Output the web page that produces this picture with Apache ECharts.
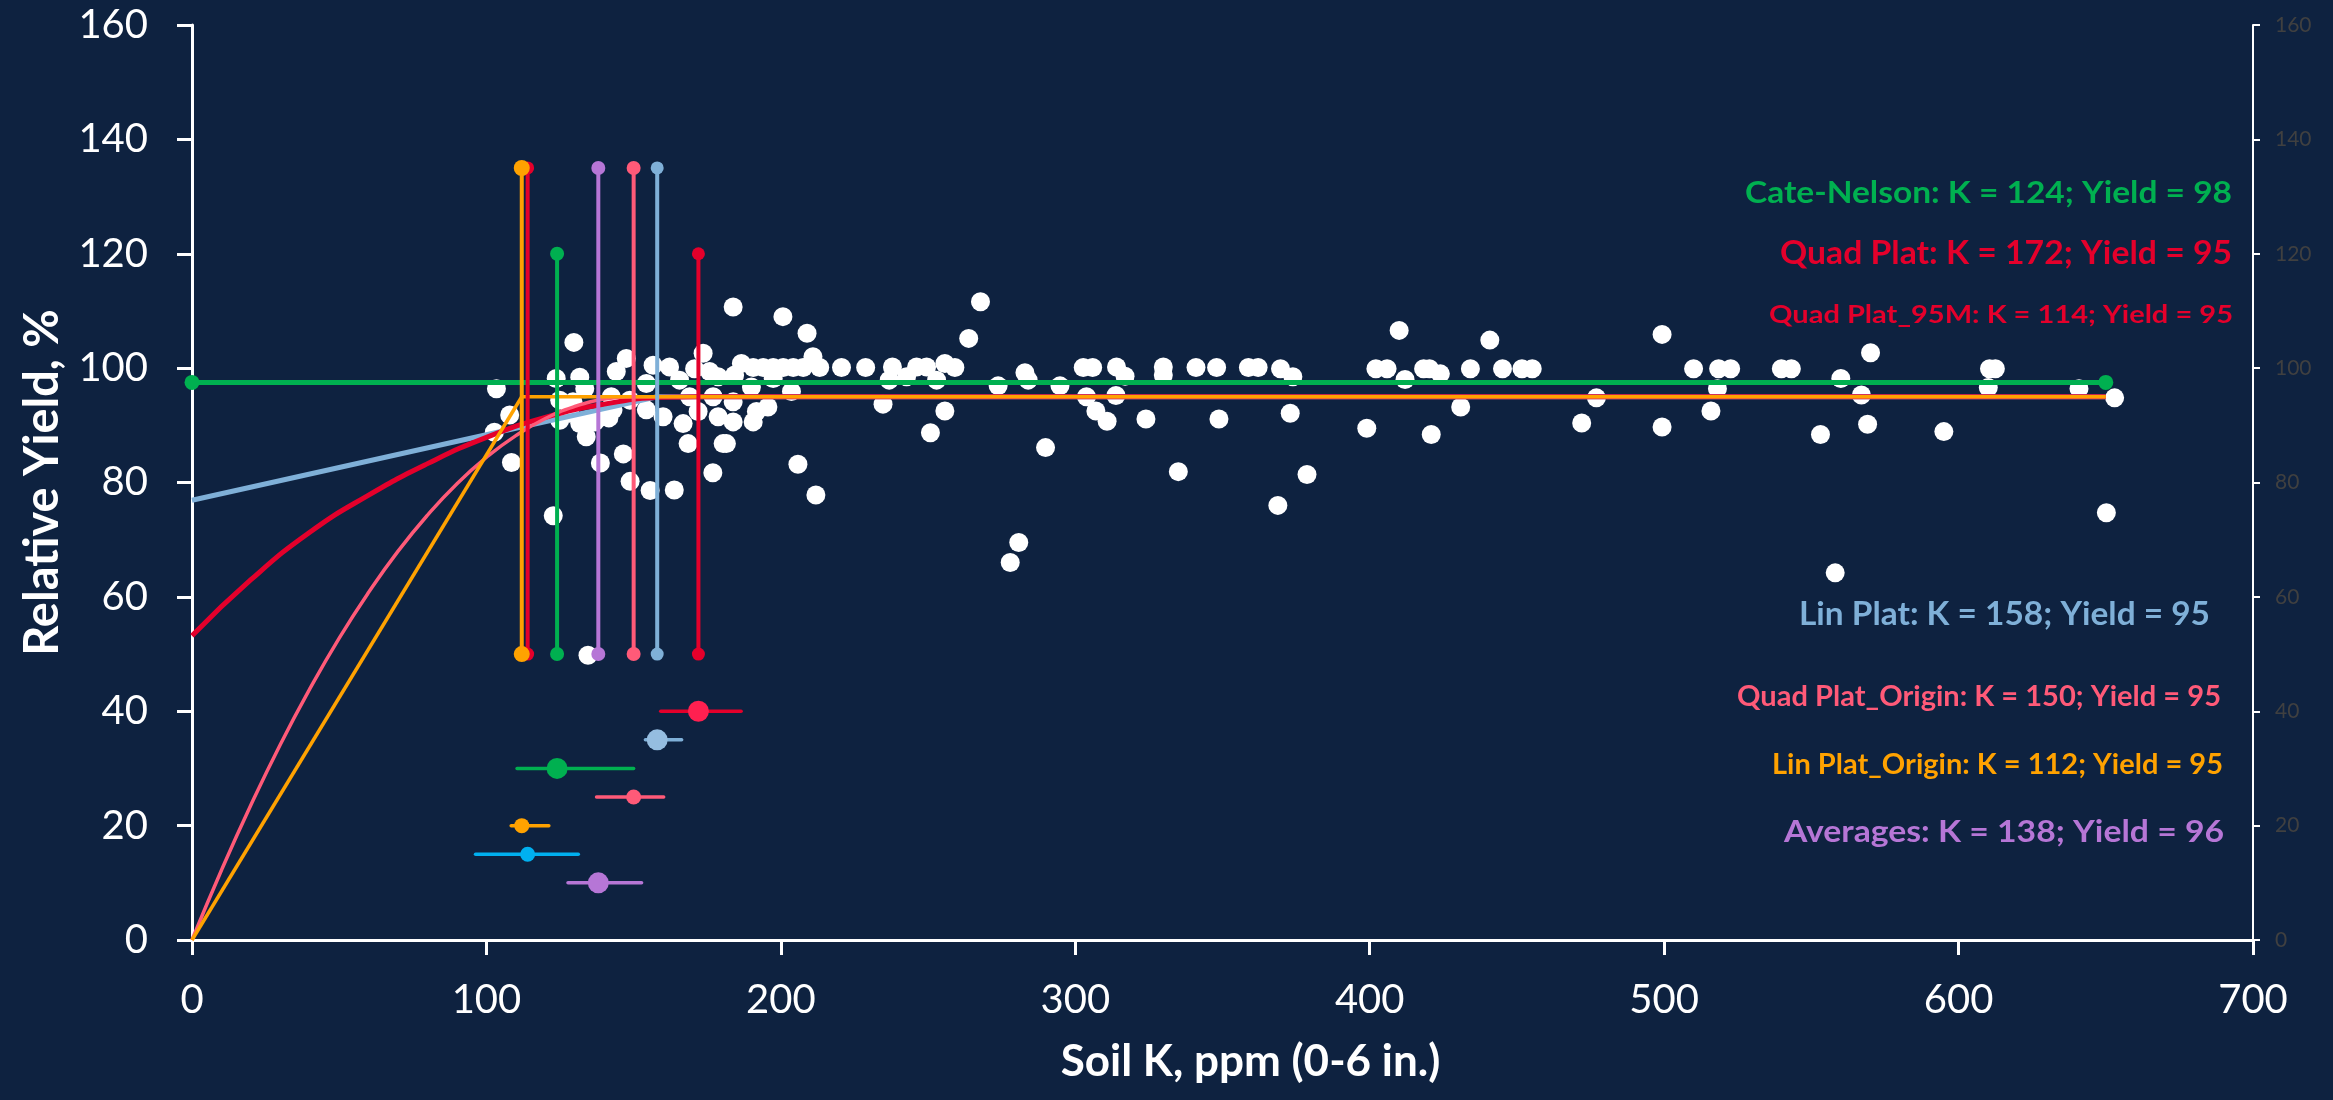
<!DOCTYPE html>
<html>
<head>
<meta charset="UTF-8">
<title>Relative Yield vs Soil K</title>
<style>
  html, body { margin: 0; padding: 0; background: #0E2240; }
  #main { width: 2333px; height: 1100px; }
</style>
</head>
<body>
<div id="main"></div>
<script src="https://cdn.jsdelivr.net/npm/echarts@6/dist/echarts.min.js"></script>
<script>
// observed trials: soil K (ppm) and relative yield (%)
var obsK = [103.4, 102.7, 107.9, 108.5, 122.7, 129.7, 123.7, 131.7, 133.4, 124.9, 124.9, 128.3, 129.4, 131.7, 133.9, 136.8, 134.5, 138.7, 135.1, 139.0,
  141.6, 142.4, 143.0, 144.1, 147.5, 146.5, 148.7, 148.8, 154.3, 154.3, 155.6, 156.6, 160.0, 162.2, 163.8, 165.6, 166.8, 168.5, 169.0, 170.7,
  171.9, 173.6, 175.8, 176.9, 177.0, 178.7, 178.7, 180.4, 183.8, 184.3, 183.8, 183.8, 181.5, 186.6, 190.0, 190.6, 191.7, 190.6, 194.0, 195.6,
  197.4, 197.4, 200.7, 200.8, 203.6, 204.2, 205.8, 207.6, 208.9, 210.9, 211.9, 213.2, 220.6,
  228.8, 234.7, 236.8, 237.9, 242.7, 246.1, 249.5, 250.8, 252.9, 255.7, 255.7, 259.1, 263.8, 267.8, 273.8, 277.9, 280.8, 282.9, 284.0, 289.9,
  294.8, 302.7, 303.8, 305.9, 307.0, 310.8, 313.8, 314.0, 316.9, 324.0, 329.9, 329.9, 335.0, 341.0, 348.0, 348.8, 358.8, 362.1, 368.8, 369.7,
  373.9, 373.0, 378.7, 399.0, 402.1, 405.9, 410.0, 412.0, 418.3, 420.3, 420.9, 424.0, 430.9, 434.2, 440.8, 445.1, 451.7, 455.2, 472.0, 477.0,
  499.3, 499.3, 510.0, 515.9, 518.1, 518.5, 522.6, 539.8, 543.2, 553.1, 558.1, 560.0, 567.0, 569.1, 570.1, 595.0, 610.1, 610.5, 612.5, 640.9,
  650.2, 653.0];
var obsY = [96.4, 88.8, 91.8, 83.5, 74.2, 104.5, 98.2, 98.4, 96.4, 94.4, 90.9, 92.1, 94.1, 90.3, 88.0, 90.6, 49.8, 83.4, 90.6, 91.5,
  91.3, 95.0, 92.7, 99.4, 101.7, 85.0, 94.4, 80.2, 97.3, 92.7, 78.6, 100.5, 91.5, 100.2, 78.7, 97.9, 90.3, 86.8, 95.0, 99.9,
  92.4, 102.6, 99.4, 81.7, 95.0, 98.5, 91.5, 86.8, 110.7, 98.8, 94.1, 90.6, 86.8, 100.8, 96.7, 100.1, 92.4, 90.6, 100.1, 93.2,
  100.1, 98.2, 109.0, 100.1, 95.9, 100.1, 83.2, 100.1, 106.1, 102.0, 77.8, 100.1, 100.1,
  100.1, 93.7, 97.9, 100.2, 98.5, 100.2, 100.2, 88.7, 97.9, 100.8, 92.5, 100.1, 105.2, 111.6, 96.9, 66.0, 69.5, 99.2, 97.9, 86.1,
  96.9, 100.1, 95.0, 100.1, 92.5, 90.7, 95.2, 100.2, 98.6, 91.1, 100.2, 98.8, 81.9, 100.1, 100.1, 91.1, 100.1, 100.1, 76.0, 99.9,
  98.5, 92.1, 81.4, 89.5, 99.9, 99.9, 106.6, 98.0, 99.9, 99.9, 88.4, 99.0, 93.2, 99.9, 104.9, 99.9, 99.9, 99.9, 90.4, 94.8,
  105.9, 89.7, 99.9, 92.5, 96.4, 99.9, 99.9, 99.9, 99.9, 88.4, 64.2, 98.2, 95.3, 90.2, 102.7, 88.9, 96.6, 99.9, 99.9, 96.4,
  74.7, 94.8];

// fitted response curves: rising part, then plateau
var linPlatK = [0, 158];
var linPlatY = [76.9, 95];
var quadPlatK = [0, 20, 40, 60, 80, 100, 120, 140, 160, 172];
var quadPlatY = [53.2, 63, 71.3, 77.8, 83.3, 87.9, 91.4, 93.7, 94.9, 95];
var quadOrigK = [0, 10, 20, 30, 40, 50, 60, 70, 80, 90, 100, 110, 120, 130, 140, 150];
var quadOrigY = [0, 12.2, 23.6, 34.2, 43.9, 52.8, 60.8, 68.0, 74.3, 79.8, 84.4, 88.2, 91.2, 93.3, 94.6, 95];
var linOrigK = [0, 112];
var linOrigY = [0, 95];
var plateauEnd = 650;

// Cate-Nelson level
var cnK = [0, 650];
var cnY = [97.5, 97.5];

// critical K markers (vertical lines)
var critK = [114, 112, 124, 138, 150, 158, 172];
var critTop = [135, 135, 120, 135, 135, 135, 120];
var critBottom = [50, 50, 50, 50, 50, 50, 50];

// critical K with confidence range
var ciK = [172, 158, 124, 150, 112, 114, 138];
var ciY = [40, 35, 30, 25, 20, 15, 10];
var ciLo = [159.2, 154, 110.4, 137.4, 108.4, 96.3, 127.7];
var ciHi = [186.5, 166.3, 150, 160.2, 121.2, 131.2, 152.7];

var notes = [
  'Cate-Nelson: K = 124; Yield = 98',
  'Quad Plat: K = 172; Yield = 95',
  'Quad Plat_95M: K = 114; Yield = 95',
  'Lin Plat: K = 158; Yield = 95',
  'Quad Plat_Origin: K = 150; Yield = 95',
  'Lin Plat_Origin: K = 112; Yield = 95',
  'Averages: K = 138; Yield = 96'
];

var GREEN = '#00B050', RED = '#E4002B', PINK = '#FF5A78', LBLUE = '#7FB0D8',
    ORANGE = '#FFA200', PURPLE = '#B676D6', CYAN = '#00B0F0';

var critColors = [RED, ORANGE, GREEN, PURPLE, PINK, LBLUE, RED];
var critSizes = [13, 16, 14, 14, 14, 13, 13];
var ciColors = [RED, LBLUE, GREEN, PINK, ORANGE, CYAN, PURPLE];
var ciDotColors = ['#FF2050', '#95BDE0', GREEN, PINK, ORANGE, CYAN, PURPLE];
var ciSizes = [21, 21, 21, 15, 15, 15, 21];

var noteColors = [GREEN, RED, RED, LBLUE, PINK, ORANGE, PURPLE];
var noteFont = [30, 32, 25, 32, 28, 28, 30];
var noteRight = [2232, 2232, 2233, 2210, 2221, 2223, 2224];
var noteMid = [193, 254, 315, 615, 697, 765, 832];
var noteWidth = [487, 452, 464, 411, 484, 451, 440];

function pairs(xs, ys) {
  return xs.map(function (x, i) { return [x, ys[i]]; });
}

var FONT = 'Lato';
var series = [];

series.push({
  type: 'scatter', name: 'Observed', data: pairs(obsK, obsY),
  symbolSize: 19, itemStyle: { color: '#FFFFFF', opacity: 1 }, z: 1
});

function curve(name, ks, ys, color, width, smooth) {
  var last = ks.length - 1;
  return [{
    type: 'line', name: name, data: pairs(ks, ys), smooth: smooth,
    symbol: 'none', lineStyle: { color: color, width: width }, z: 2
  }, {
    type: 'line', name: name, data: [[ks[last], ys[last]], [plateauEnd, ys[last]]],
    symbol: 'none', lineStyle: { color: color, width: width }, z: 2
  }];
}
series = series.concat(curve('Lin Plat', linPlatK, linPlatY, LBLUE, 5, false));
series = series.concat(curve('Quad Plat', quadPlatK, quadPlatY, RED, 5, true));
series = series.concat(curve('Quad Plat_Origin', quadOrigK, quadOrigY, PINK, 3.5, true));
series = series.concat(curve('Lin Plat_Origin', linOrigK, linOrigY, ORANGE, 3.5, false));

series.push({
  type: 'line', name: 'Cate-Nelson', data: pairs(cnK, cnY), clip: false,
  symbol: 'circle', symbolSize: 15, itemStyle: { color: GREEN },
  lineStyle: { color: GREEN, width: 5 }, z: 3
});

critK.forEach(function (k, i) {
  series.push({
    type: 'line', data: [[k, critBottom[i]], [k, critTop[i]]],
    symbol: 'circle', symbolSize: critSizes[i], itemStyle: { color: critColors[i] },
    lineStyle: { color: critColors[i], width: 4 }, z: 4
  });
});

ciK.forEach(function (k, i) {
  series.push({
    type: 'line', data: [[ciLo[i], ciY[i]], [ciHi[i], ciY[i]]],
    symbol: 'none', lineStyle: { color: ciColors[i], width: 3.5, cap: 'round' }, z: 4
  });
});
series.push({
  type: 'scatter', data: ciK.map(function (k, i) {
    return { value: [k, ciY[i]], symbolSize: ciSizes[i], itemStyle: { color: ciDotColors[i], opacity: 1 } };
  }), z: 5
});

// annotation texts, squeezed horizontally to the widths seen in the figure
var ctx = document.createElement('canvas').getContext('2d');
var graphics = notes.map(function (t, i) {
  var font = 'bold ' + noteFont[i] + 'px ' + FONT;
  ctx.font = font;
  var sx = noteWidth[i] / ctx.measureText(t).width;
  return {
    type: 'text', x: noteRight[i], y: noteMid[i], scaleX: sx, z: 10,
    style: { text: t, font: font, fill: noteColors[i], align: 'right', verticalAlign: 'middle' }
  };
});

var chart = echarts.init(document.getElementById('main'));
chart.setOption({
  animation: false,
  backgroundColor: '#0E2240',
  grid: { left: 192, right: 80, top: 25, bottom: 160, outerBoundsMode: 'none' },
  xAxis: {
    type: 'value', min: 0, max: 700, interval: 100,
    name: 'Soil K, ppm (0-6 in.)', nameLocation: 'middle', nameGap: 100,
    nameTextStyle: { color: '#FFFFFF', fontSize: 44, fontWeight: 'bold', fontFamily: FONT, padding: [0, 0, 0, 56] },
    axisLine: { show: true, lineStyle: { color: '#FFFFFF', width: 3 } },
    axisTick: { show: true, length: 15, lineStyle: { color: '#FFFFFF', width: 3 } },
    axisLabel: { color: '#FFFFFF', fontSize: 40, fontFamily: FONT, margin: 40 },
    splitLine: { show: false }
  },
  yAxis: [{
    type: 'value', min: 0, max: 160, interval: 20, position: 'left',
    name: 'Relative Yield, %', nameLocation: 'middle', nameGap: 126,
    nameTextStyle: { color: '#FFFFFF', fontSize: 47, fontWeight: 'bold', fontFamily: FONT },
    axisLine: { show: true, lineStyle: { color: '#FFFFFF', width: 3 } },
    axisTick: { show: true, length: 15, lineStyle: { color: '#FFFFFF', width: 3 } },
    axisLabel: { color: '#FFFFFF', fontSize: 40, fontFamily: FONT, margin: 44 },
    splitLine: { show: false }
  }, {
    type: 'value', min: 0, max: 160, interval: 20, position: 'right',
    axisLine: { show: true, lineStyle: { color: '#FFFFFF', width: 2 } },
    axisTick: { show: true, length: 7, lineStyle: { color: '#FFFFFF', width: 2 } },
    axisLabel: { color: '#404040', fontSize: 21, fontFamily: FONT, margin: 22 },
    splitLine: { show: false }
  }],
  series: series,
  graphic: graphics
});
</script>
</body>
</html>
